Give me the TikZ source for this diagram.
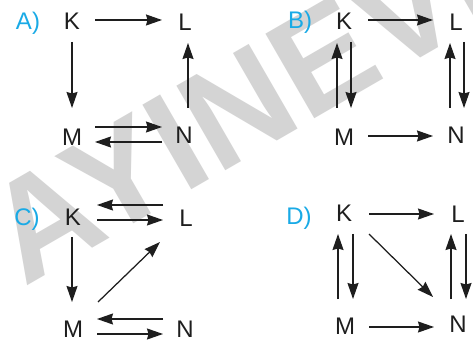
\documentclass[tikz,border=0pt]{standalone}
\usepackage{fontspec}
\setmainfont{Liberation Sans}
\usetikzlibrary{arrows.meta,calc}
\definecolor{labc}{RGB}{25,170,230}
\definecolor{wm}{RGB}{212,212,212}
\definecolor{ink}{RGB}{30,30,30}
\tikzset{
 lett/.style={inner sep=0pt, font=\fontsize{24}{24}\selectfont, text=ink},
 lab/.style={inner sep=0pt, text depth=0pt, font=\fontsize{24}{24}\selectfont, text=labc},
 arr/.style={line width=1.25pt, draw=ink, -{Stealth[length=16pt,width=11pt,inset=1.5pt]}},
}
\begin{document}
\begin{tikzpicture}[x=1pt,y=-1pt]
\useasboundingbox (0,0) rectangle (473,344);
\fill[white] (0,0) rectangle (473,344);
\node[rotate=30, text=wm, inner sep=0pt, font=\fontsize{142}{142}\selectfont\bfseries] (wmk) at (240,106) {AYINEVI};

% Panel A
\node[lab] (la) at (28,21) {A)};
\node[lett] (aK) at (72,21) {K};
\node[lett] (aL) at (185,22) {L};
\node[lett] (aM) at (72,137) {M};
\node[lett] (aN) at (184,135) {N};
\draw[arr] ([shift={(23,-1)}]aK.center) -- ([shift={(-23,-2)}]aL.center);
\draw[arr] ([shift={(0,21)}]aK.center) -- ([shift={(0,-29)}]aM.center);
\draw[arr] ([shift={(4,-27)}]aN.center) -- ([shift={(3,21)}]aL.center);
\draw[arr] ([shift={(23,-10)}]aM.center) -- ([shift={(-22,-8)}]aN.center);
\draw[arr] ([shift={(-22,7)}]aN.center) -- ([shift={(23,5)}]aM.center);

% Panel B
\node[lab] (lb) at (300,20) {B)};
\node[lett] (bK) at (344,21) {K};
\node[lett] (bL) at (456,22) {L};
\node[lett] (bM) at (344,137) {M};
\node[lett] (bN) at (456,135) {N};
\draw[arr] ([shift={(24,-1)}]bK.center) -- ([shift={(-23,-2)}]bL.center);
\draw[arr] ([shift={(24,-1)}]bM.center) -- ([shift={(-23,1)}]bN.center);
\draw[arr] ([shift={(-7,-29)}]bM.center) -- ([shift={(-7,22)}]bK.center);
\draw[arr] ([shift={(7,21)}]bK.center) -- ([shift={(7,-29)}]bM.center);
\draw[arr] ([shift={(-6,-27)}]bN.center) -- ([shift={(-6,21)}]bL.center);
\draw[arr] ([shift={(8,20)}]bL.center) -- ([shift={(8,-27)}]bN.center);

% Panel C
\node[lab] (lc) at (27,217) {C)};
\node[lett] (cK) at (73,217) {K};
\node[lett] (cL) at (186,218) {L};
\node[lett] (cM) at (73,329) {M};
\node[lett] (cN) at (185,329) {N};
\draw[arr] ([shift={(-23,-13)}]cL.center) -- ([shift={(24,-12)}]cK.center);
\draw[arr] ([shift={(24,3)}]cK.center) -- ([shift={(-23,2)}]cL.center);
\draw[arr] ([shift={(-1,20)}]cK.center) -- ([shift={(-1,-27)}]cM.center);
\draw[arr] ([shift={(25,-27)}]cM.center) -- ([shift={(-26,24)}]cL.center);
\draw[arr] ([shift={(-22,-10)}]cN.center) -- ([shift={(24,-10)}]cM.center);
\draw[arr] ([shift={(24,5)}]cM.center) -- ([shift={(-22,5)}]cN.center);

% Panel D
\node[lab] (ld) at (299,216) {D)};
\node[lett] (dK) at (344,213) {K};
\node[lett] (dL) at (458,214) {L};
\node[lett] (dM) at (345,326) {M};
\node[lett] (dN) at (458,324) {N};
\draw[arr] ([shift={(25,1)}]dK.center) -- ([shift={(-24,0)}]dL.center);
\draw[arr] ([shift={(24,1)}]dM.center) -- ([shift={(-24,3)}]dN.center);
\draw[arr] ([shift={(-7,-27)}]dM.center) -- ([shift={(-6,21)}]dK.center);
\draw[arr] ([shift={(9,21)}]dK.center) -- ([shift={(8,-27)}]dM.center);
\draw[arr] ([shift={(-7,-25)}]dN.center) -- ([shift={(-7,20)}]dL.center);
\draw[arr] ([shift={(8,20)}]dL.center) -- ([shift={(8,-25)}]dN.center);
\draw[arr] ([shift={(25,21)}]dK.center) -- ([shift={(-25,-27)}]dN.center);
\end{tikzpicture}
\end{document}
